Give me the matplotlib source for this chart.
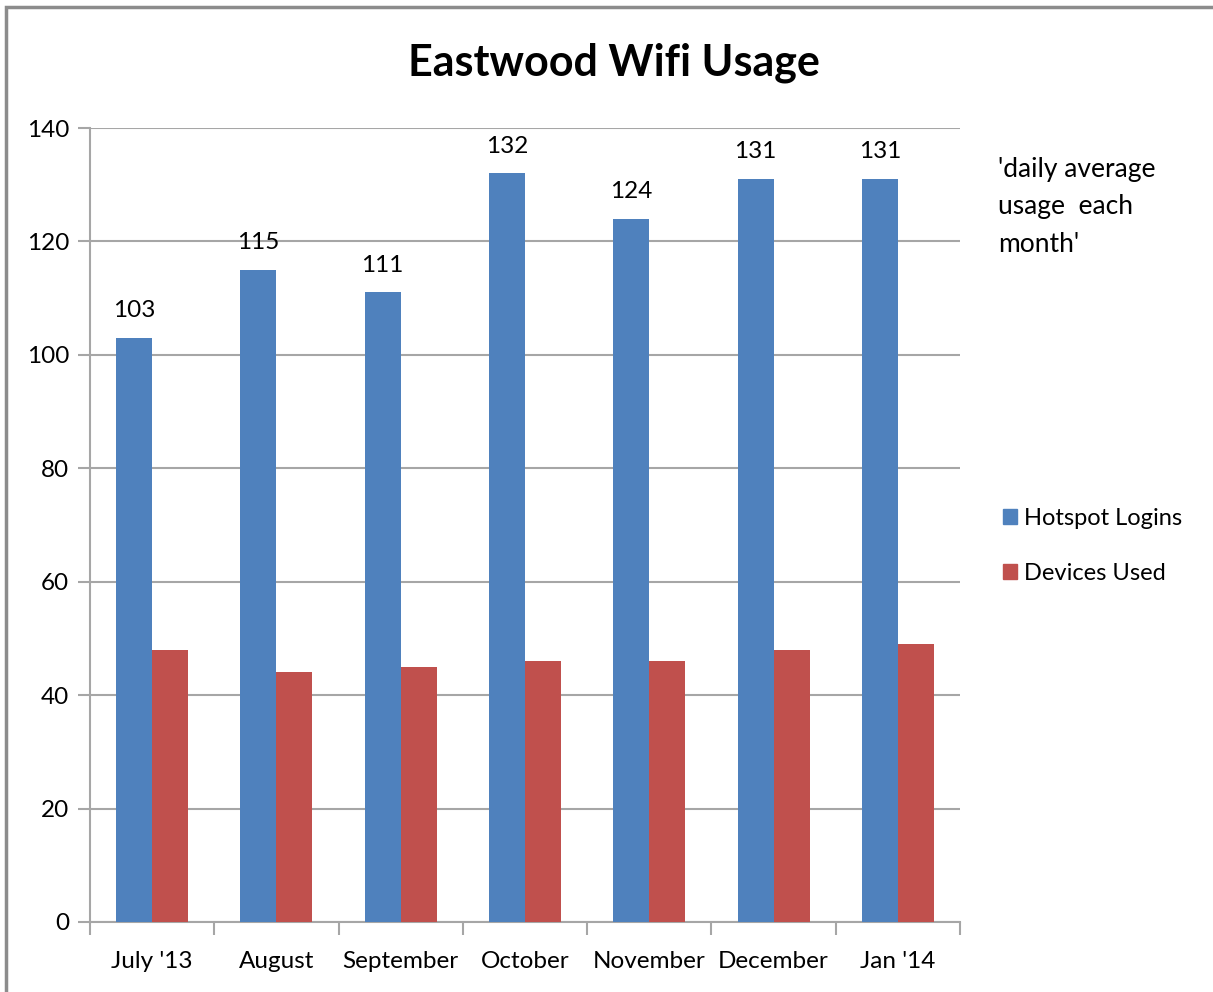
import numpy as np
import matplotlib.pyplot as plt
from matplotlib.patches import Rectangle, Patch

MONTHS = ["July '13", 'August', 'September', 'October', 'November', 'December', "Jan '14"]
LOGINS = [103, 115, 111, 132, 124, 131, 131]
DEVICES = [48, 44, 45, 46, 46, 48, 49]

BLUE = '#4F81BD'
RED = '#C0504D'
GRID = '#A6A6A6'
FONT = ['Lato', 'DejaVu Sans']

plt.rcParams['font.family'] = FONT

fig = plt.figure(figsize=(12.13, 9.92), dpi=100)
# outer chart border
fig.patches.append(Rectangle((6 / 1213, -0.05), 1.1, 1 - 7 / 992 + 0.05,
	transform=fig.transFigure, fill=False, edgecolor='#8C8C8C', linewidth=2.5))

ax = fig.add_axes([90 / 1213, 1 - 922 / 992, 870 / 1213, 794 / 992])

x = np.arange(len(MONTHS))
w = 0.29
bars = ax.bar(x - w / 2, LOGINS, w, color=BLUE, label='Hotspot Logins', zorder=3)
ax.bar(x + w / 2, DEVICES, w, color=RED, label='Devices Used', zorder=3)
ax.bar_label(bars, padding=12, fontsize=17.5, color='black')

ax.set_xlim(-0.5, len(MONTHS) - 0.5)
ax.set_ylim(0, 140)
ax.set_yticks(np.arange(0, 141, 20))
ax.yaxis.grid(True, color=GRID, linewidth=1.5, zorder=0)
ax.set_axisbelow(True)

ax.set_xticks(x)
ax.set_xticklabels(MONTHS, fontsize=17.5)
ax.set_xticks(np.arange(-0.5, len(MONTHS)), minor=True)
ax.tick_params(axis='x', which='major', length=0, pad=21)
ax.tick_params(axis='x', which='minor', length=9, width=1.5, color=GRID, direction='out')
ax.tick_params(axis='y', length=9, width=1.5, color=GRID, labelsize=17.5, pad=6)

for s in ['top', 'right']:
	ax.spines[s].set_visible(False)
for s in ['left', 'bottom']:
	ax.spines[s].set_color(GRID)
	ax.spines[s].set_linewidth(1.5)

fig.text(0.506, 1 - 63 / 992, 'Eastwood Wifi Usage', fontsize=31, fontweight='bold',
	ha='center', va='center')
fig.text(998 / 1213, 1 - 157 / 992, "'daily average\nusage  each\nmonth'", fontsize=19,
	ha='left', va='top', linespacing=1.62)

handles = [Patch(color=BLUE, label='Hotspot Logins'), Patch(color=RED, label='Devices Used')]
fig.legend(handles=handles, loc='center left', bbox_to_anchor=(982 / 1213, 1 - 546 / 992),
	frameon=False, fontsize=17, handlelength=0.6, handleheight=0.6, handletextpad=0.3,
	labelspacing=1.45)

fig.savefig('out.png', dpi=100)
